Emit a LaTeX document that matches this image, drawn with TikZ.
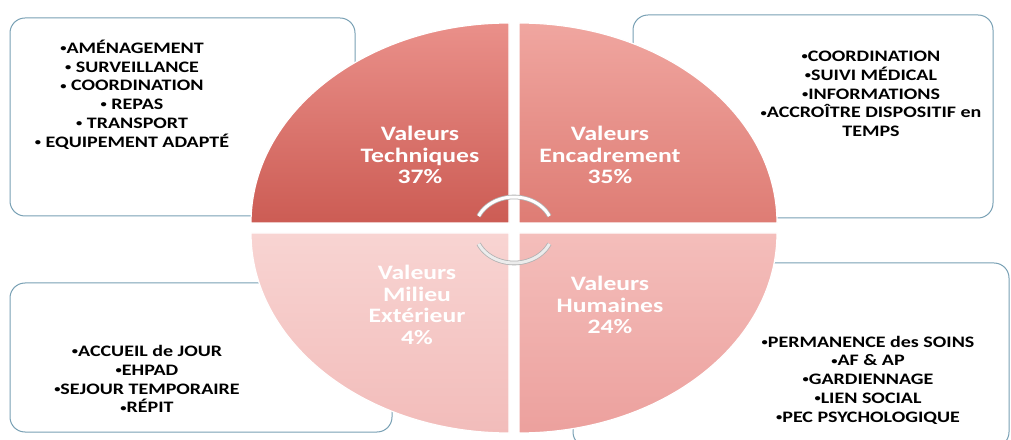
\documentclass[tikz,border=0pt]{standalone}
\usepackage{fontspec}
\newfontfamily\boxfont[FakeStretch=1.25]{Carlito}
\newcommand\puce{\raisebox{1.8pt}{\fontsize{10}{10}\selectfont•}}
\definecolor{boxline}{RGB}{120,160,180}
\definecolor{techhaut}{RGB}{234,144,138}
\definecolor{techbas}{RGB}{204,92,84}
\definecolor{encahaut}{RGB}{240,166,160}
\definecolor{encabas}{RGB}{222,124,116}
\definecolor{milihaut}{RGB}{248,212,210}
\definecolor{milibas}{RGB}{242,188,186}
\definecolor{humahaut}{RGB}{244,190,187}
\definecolor{humabas}{RGB}{236,160,157}

\begin{document}
\begin{tikzpicture}[x=1pt,y=1pt,
   liste/.style={font={\boxfont\bfseries\fontsize{16}{18.8}\selectfont}, align=center, inner sep=0pt},
   valeur/.style={text=white, font={\boxfont\bfseries\fontsize{20.5}{21.5}\selectfont}, align=center, inner sep=0pt},
   cadre/.style={draw=boxline, line width=1pt, rounded corners=15pt, fill=white},
   quart/.style={draw=white, line width=1.2pt},
   fleche/.style={draw=gray!60, line width=0.8pt, double distance=3pt}]
   \useasboundingbox (0,0) rectangle (1011,439);

   % cadres
   \draw[cadre] (10,223) rectangle (355,421);
   \draw[cadre] (633,221) rectangle (993,424);
   \draw[cadre] (10,7) rectangle (392,156);
   \draw[cadre] (573,-8) rectangle (1009,176);

   % quarts
   \draw[quart, top color=techhaut, bottom color=techbas] (509,216) -- ++(-258,0) arc [start angle=180, end angle=90, x radius=258, y radius=200] -- cycle;
   \draw[quart, top color=encahaut, bottom color=encabas] (519,216) -- ++(0,200) arc [start angle=90, end angle=0, x radius=258, y radius=200] -- cycle;
   \draw[quart, top color=milihaut, bottom color=milibas] (509,206) -- ++(-258,0) arc [start angle=180, end angle=270, x radius=258, y radius=200] -- cycle;
   \draw[quart, top color=humahaut, bottom color=humabas] (519,206) -- ++(0,-200) arc [start angle=270, end angle=360, x radius=258, y radius=200] -- cycle;

   \draw[fleche, double=white] (514,209) ++(25:39 and 33) arc [start angle=25, end angle=155, x radius=39, y radius=33];
   \draw[fleche, double=gray!15] (514,209) ++(205:39 and 33) arc [start angle=205, end angle=335, x radius=39, y radius=33];

   \node[valeur] (techniques) at (420,284) {Valeurs\\Techniques\\37\%};
   \node[valeur] (encadrement) at (610,284) {Valeurs\\Encadrement\\35\%};
   \node[valeur] (milieu) at (417,134) {Valeurs\\Milieu\\Extérieur\\4\%};
   \node[valeur] (humaines) at (610,134) {Valeurs\\Humaines\\24\%};

   % listes
   \node[liste] (listetech) at (132,344.5) {\puce AMÉNAGEMENT\\\puce\ SURVEILLANCE\\\puce\ COORDINATION\\\puce\ REPAS\\\puce\ TRANSPORT\\\puce\ EQUIPEMENT ADAPTÉ};
   \node[liste] (listeenca) at (871,345) {\puce COORDINATION\\\puce SUIVI MÉDICAL\\\puce INFORMATIONS\\\puce ACCROÎTRE DISPOSITIF en\\TEMPS};
   \node[liste] (listemili) at (147,60) {\puce ACCUEIL de JOUR\\\puce EHPAD\\\puce SEJOUR TEMPORAIRE\\\puce RÉPIT};
   \node[liste] (listehuma) at (868,59) {\puce PERMANENCE des SOINS\\\puce AF \& AP\\\puce GARDIENNAGE\\\puce LIEN SOCIAL\\\puce PEC PSYCHOLOGIQUE};
\end{tikzpicture}
\end{document}
